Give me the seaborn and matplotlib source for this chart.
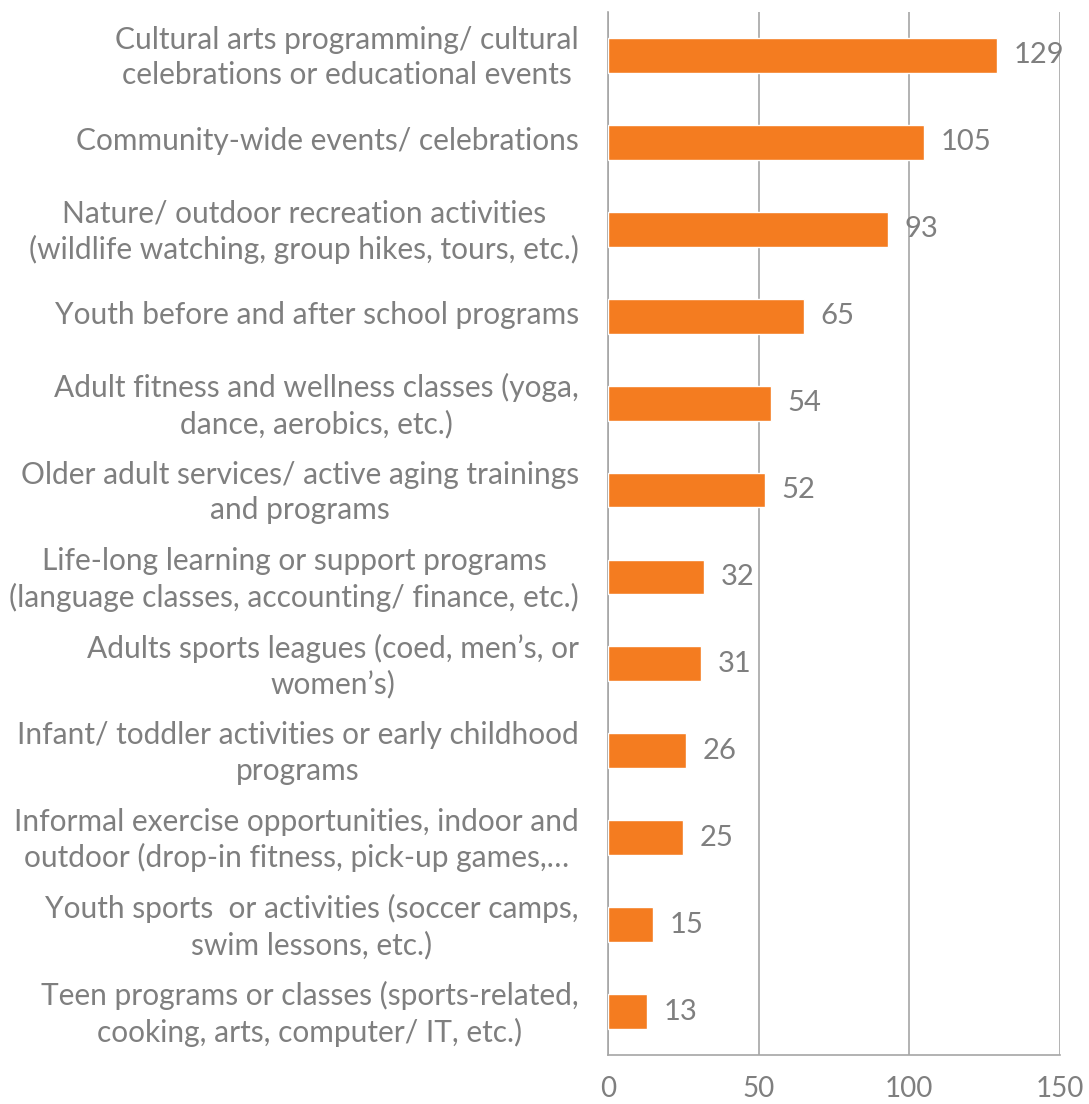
import matplotlib
matplotlib.use("Agg")
import matplotlib.pyplot as plt
import matplotlib.transforms as mtransforms
import seaborn as sns
import pandas as pd
from matplotlib.ticker import FixedLocator

categories = [
    "Cultural arts programming/ cultural\ncelebrations or educational events",
    "Community-wide events/ celebrations",
    "Nature/ outdoor recreation activities\n(wildlife watching, group hikes, tours, etc.)",
    "Youth before and after school programs",
    "Adult fitness and wellness classes (yoga,\ndance, aerobics, etc.)",
    "Older adult services/ active aging trainings\nand programs",
    "Life-long learning or support programs\n(language classes, accounting/ finance, etc.)",
    "Adults sports leagues (coed, men\u2019s, or\nwomen\u2019s)",
    "Infant/ toddler activities or early childhood\nprograms",
    "Informal exercise opportunities, indoor and\noutdoor (drop-in fitness, pick-up games,\u2026",
    "Youth sports  or activities (soccer camps,\nswim lessons, etc.)",
    "Teen programs or classes (sports-related,\ncooking, arts, computer/ IT, etc.)",
]
values = [129, 105, 93, 65, 54, 52, 32, 31, 26, 25, 15, 13]
x_ticks = [0, 50, 100, 150]

sns.set_theme(style="white")
plt.rcParams["font.family"] = ["Lato", "DejaVu Sans"]

TEXT = "#7F7F7F"
GRID = "#A6A6A6"
ORANGE = "#F47C20"

df = pd.DataFrame({"category": categories, "value": values})

fig = plt.figure(figsize=(10.89, 11.04), dpi=100)
ax = fig.add_axes([0.5583, 0.0444, 0.4151, 0.9447])

sns.barplot(data=df, y="category", x="value", orient="h", color=ORANGE,
            width=0.4, saturation=1, ax=ax, zorder=3)

ax.set_xlim(0, 150)
ax.set_xticks(x_ticks)
ax.set_xlabel("")
ax.set_ylabel("")
n = len(categories)
ax.set_ylim(n - 0.5, -0.5)

ax.grid(axis="x", color=GRID, linewidth=1.2, zorder=0)
ax.grid(axis="y", visible=False)

for s in ["top", "right"]:
    ax.spines[s].set_visible(False)
for s in ["left", "bottom"]:
    ax.spines[s].set_color(GRID)
    ax.spines[s].set_linewidth(1.2)

ax.tick_params(axis="x", which="major", colors=GRID, labelcolor=TEXT,
               labelsize=20, length=8, width=1.2, direction="out", pad=7)
ax.tick_params(axis="y", which="major", length=0, labelcolor=TEXT,
               labelsize=21.5, pad=21)
ax.yaxis.set_minor_locator(FixedLocator([i - 0.5 for i in range(n + 1)]))
ax.tick_params(axis="y", which="minor", length=10, width=1.2, colors=GRID)

shift = mtransforms.ScaledTranslation(0, 4 / 100, fig.dpi_scale_trans)
for lab in ax.get_yticklabels():
    lab.set_multialignment("center")
    lab.set_linespacing(1.32)
    lab.set_transform(lab.get_transform() + shift)

for c in ax.containers:
    ax.bar_label(c, labels=[str(v) for v in values], padding=12,
                 color=TEXT, fontsize=21)

fig.savefig("out.png", dpi=100)
